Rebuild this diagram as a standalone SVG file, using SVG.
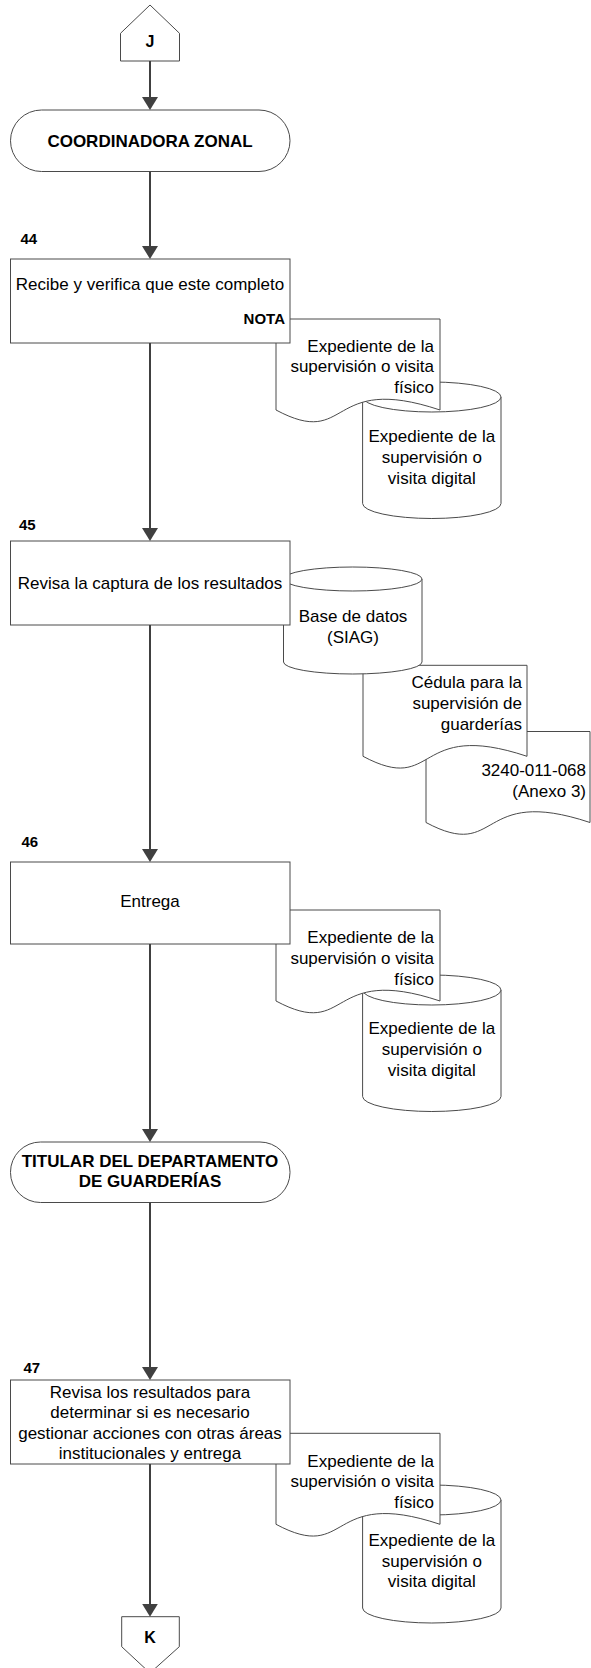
<svg xmlns="http://www.w3.org/2000/svg" width="591" height="1668" viewBox="0 0 591 1668">
  <style>
    .shape { fill: #ffffff; stroke: #4a4a4a; stroke-width: 1; }
    .edge { fill: none; stroke: #404040; stroke-width: 2; }
    .t { font-family: "Liberation Sans", Arial, sans-serif; font-size: 17px; fill: #000000; }
    .c { text-anchor: middle; }
    .r { text-anchor: end; }
    .b { font-weight: bold; }
    .num { font-family: "Liberation Sans", Arial, sans-serif; font-size: 15px; font-weight: bold; fill: #000000; }
  </style>
  <defs>
    <marker id="arrow" markerUnits="userSpaceOnUse" markerWidth="14" markerHeight="16" refX="10" refY="8" orient="auto">
      <path d="M0,0 L13,8 L0,16 Z" fill="#404040"/>
    </marker>
    <!-- document symbol: flat top, wavy bottom -->
    <path id="doc" d="M0,0 H164 V91 C50,53 75,131 0,91 Z"/>
  </defs>

  <rect width="591" height="1668" fill="#ffffff"/>

  <!-- off-page connector J -->
  <g id="conn-j">
    <polygon class="shape" points="120.5,61 120.5,33.3 150,5 179.5,33.3 179.5,61"/>
    <text class="t c b" x="150" y="47" style="font-size:16px">J</text>
  </g>

  <!-- role: coordinadora zonal -->
  <g id="role-coordinadora">
    <rect class="shape" x="10.5" y="110" width="279.5" height="61.5" rx="31" ry="30.75"/>
    <text class="t c b" x="150" y="147">COORDINADORA ZONAL</text>
  </g>

  <!-- step 44 -->
  <g id="store-44">
    <path class="shape" d="M362.6,397 A69.2,15 0 0 1 501,397 V503.5 A69.2,15 0 0 1 362.6,503.5 Z"/>
    <path class="shape" fill="none" d="M362.6,397 A69.2,15 0 0 0 501,397"/>
    <text class="t c" x="431.8" y="442.3">Expediente de la</text>
    <text class="t c" x="431.8" y="463">supervisión o</text>
    <text class="t c" x="431.8" y="483.5">visita digital</text>
  </g>
  <g id="doc-44">
    <use href="#doc" class="shape" transform="translate(276,319)"/>
    <text class="t r" x="434" y="351.7">Expediente de la</text>
    <text class="t r" x="434" y="372.3">supervisión o visita</text>
    <text class="t r" x="434" y="392.8">físico</text>
  </g>
  <g id="step-44">
    <text class="num" x="20.5" y="243.5">44</text>
    <rect class="shape" x="10.5" y="259" width="279.5" height="84"/>
    <text class="t c" x="150" y="290">Recibe y verifica que este completo</text>
    <text class="num" x="285" y="324" text-anchor="end">NOTA</text>
  </g>

  <!-- step 45 -->
  <g id="doc-45-anexo">
    <use href="#doc" class="shape" transform="translate(426,731.5)"/>
    <text class="t r" x="586" y="776">3240-011-068</text>
    <text class="t r" x="586" y="796.7">(Anexo 3)</text>
  </g>
  <g id="doc-45-cedula">
    <use href="#doc" class="shape" transform="translate(363,665.3)"/>
    <text class="t r" x="522" y="688.3">Cédula para la</text>
    <text class="t r" x="522" y="709">supervisión de</text>
    <text class="t r" x="522" y="729.5">guarderías</text>
  </g>
  <g id="store-45-siag">
    <path class="shape" d="M283.5,579 A69.25,12 0 0 1 422,579 V662 A69.25,12 0 0 1 283.5,662 Z"/>
    <path class="shape" fill="none" d="M283.5,579 A69.25,12 0 0 0 422,579"/>
    <text class="t c" x="353" y="621.7">Base de datos</text>
    <text class="t c" x="353" y="643.3">(SIAG)</text>
  </g>
  <g id="step-45">
    <text class="num" x="19" y="529.5">45</text>
    <rect class="shape" x="10.5" y="541" width="279.5" height="84"/>
    <text class="t c" x="150" y="589">Revisa la captura de los resultados</text>
  </g>

  <!-- step 46 -->
  <g id="store-46">
    <path class="shape" d="M362.6,990 A69.2,15 0 0 1 501,990 V1096.5 A69.2,15 0 0 1 362.6,1096.5 Z"/>
    <path class="shape" fill="none" d="M362.6,990 A69.2,15 0 0 0 501,990"/>
    <text class="t c" x="431.8" y="1034">Expediente de la</text>
    <text class="t c" x="431.8" y="1055">supervisión o</text>
    <text class="t c" x="431.8" y="1075.5">visita digital</text>
  </g>
  <g id="doc-46">
    <use href="#doc" class="shape" transform="translate(276,910)"/>
    <text class="t r" x="434" y="943.3">Expediente de la</text>
    <text class="t r" x="434" y="964">supervisión o visita</text>
    <text class="t r" x="434" y="984.8">físico</text>
  </g>
  <g id="step-46">
    <text class="num" x="21.5" y="847">46</text>
    <rect class="shape" x="10.5" y="862" width="279.5" height="82"/>
    <text class="t c" x="150" y="907.3">Entrega</text>
  </g>

  <!-- role: titular del departamento -->
  <g id="role-titular">
    <rect class="shape" x="10.5" y="1142" width="279.5" height="60.5" rx="30" ry="30"/>
    <text class="t c b" x="150" y="1166.7">TITULAR DEL DEPARTAMENTO</text>
    <text class="t c b" x="150" y="1187.3">DE GUARDERÍAS</text>
  </g>

  <!-- step 47 -->
  <g id="store-47">
    <path class="shape" d="M362.6,1500 A69.2,15 0 0 1 501,1500 V1608 A69.2,15 0 0 1 362.6,1608 Z"/>
    <path class="shape" fill="none" d="M362.6,1500 A69.2,15 0 0 0 501,1500"/>
    <text class="t c" x="431.8" y="1545.7">Expediente de la</text>
    <text class="t c" x="431.8" y="1566.5">supervisión o</text>
    <text class="t c" x="431.8" y="1587">visita digital</text>
  </g>
  <g id="doc-47">
    <use href="#doc" class="shape" transform="translate(276,1433.3)"/>
    <text class="t r" x="434" y="1466.7">Expediente de la</text>
    <text class="t r" x="434" y="1487.3">supervisión o visita</text>
    <text class="t r" x="434" y="1508">físico</text>
  </g>
  <g id="step-47">
    <text class="num" x="23.5" y="1373">47</text>
    <rect class="shape" x="10.5" y="1380" width="279.5" height="84"/>
    <text class="t c" x="150" y="1397.5">Revisa los resultados para</text>
    <text class="t c" x="150" y="1418">determinar si es necesario</text>
    <text class="t c" x="150" y="1438.5">gestionar acciones con otras áreas</text>
    <text class="t c" x="150" y="1459">institucionales y entrega</text>
  </g>

  <!-- off-page connector K -->
  <g id="conn-k">
    <polygon class="shape" points="121.7,1616.7 179.3,1616.7 179.3,1646.7 150,1673 121.7,1646.7"/>
    <text class="t c b" x="150" y="1643.3" style="font-size:16px">K</text>
  </g>

  <!-- flow lines -->
  <g id="connectors">
    <line class="edge" x1="150" y1="61" x2="150" y2="107" marker-end="url(#arrow)"/>
    <line class="edge" x1="150" y1="171.5" x2="150" y2="256" marker-end="url(#arrow)"/>
    <line class="edge" x1="150" y1="343" x2="150" y2="538" marker-end="url(#arrow)"/>
    <line class="edge" x1="150" y1="625" x2="150" y2="859" marker-end="url(#arrow)"/>
    <line class="edge" x1="150" y1="944" x2="150" y2="1139" marker-end="url(#arrow)"/>
    <line class="edge" x1="150" y1="1202.5" x2="150" y2="1377" marker-end="url(#arrow)"/>
    <line class="edge" x1="150" y1="1464" x2="150" y2="1613.7" marker-end="url(#arrow)"/>
  </g>
</svg>
